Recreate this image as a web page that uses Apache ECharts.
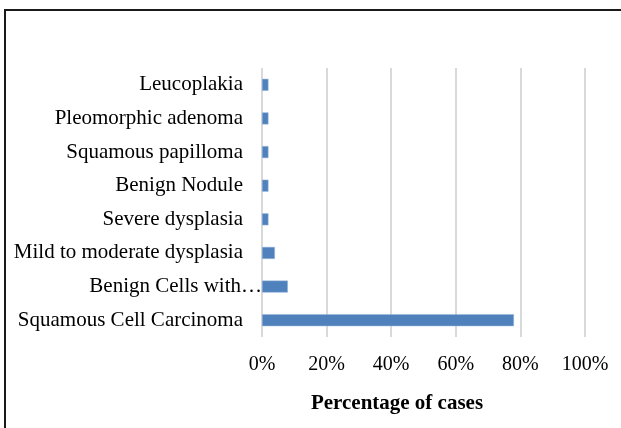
<!DOCTYPE html>
<html>
<head>
<meta charset="utf-8">
<script src="https://cdn.jsdelivr.net/npm/echarts@6/dist/echarts.min.js"></script>
<style>
	html, body { margin: 0; padding: 0; background: #fff; }
	#frame { position: absolute; left: 4px; top: 9px; width: 700px; height: 500px; border: 2px solid #1a1a1a; box-sizing: border-box; }
	#report_chart { position: absolute; left: 0; top: 0; width: 621px; height: 428px; }
</style>
</head>
<body>
<div id="frame"></div>
<div id="report_chart"></div>
<script>
// bottom to top, as the category axis draws them
var categories = ['Squamous Cell Carcinoma', 'Benign Cells with\u2026', 'Mild to moderate dysplasia',
	'Severe dysplasia', 'Benign Nodule', 'Squamous papilloma', 'Pleomorphic adenoma', 'Leucoplakia'];
var percentValues = [78, 8, 4, 2, 2, 2, 2, 2];
var xTicks = [0, 20, 40, 60, 80, 100];

var serif = "'Liberation Serif', 'Times New Roman', serif";

var option_bar = {
	animation : false,
	title : {
		text : 'Percentage of cases',
		left : 392,
		top : 388,
		textAlign : 'center',
		textStyle : {
			color : '#000',
			fontFamily : serif,
			fontSize : 21,
			fontWeight : 'bold'
		}
	},
	grid : {
		left : 262,
		right : 36,
		top : 68,
		bottom : 91
	},
	xAxis : [ {
		type : 'value',
		min : xTicks[0],
		max : xTicks[xTicks.length - 1],
		interval : 20,
		axisLine : { show : false },
		axisTick : { show : false },
		splitLine : {
			lineStyle : { color : '#d9d9d9', width : 2 }
		},
		axisLabel : {
			formatter : '{value}%',
			margin : 18,
			color : '#000',
			fontFamily : serif,
			fontSize : 20
		}
	} ],
	yAxis : [ {
		type : 'category',
		data : categories,
		axisLine : { show : false },
		axisTick : { show : false },
		axisLabel : {
			margin : 0,
			color : '#000',
			fontFamily : serif,
			fontSize : 21,
			// the truncated label sits right up against the axis
			formatter : function(value) {
				return value.indexOf('\u2026') >= 0 ? '{c|' + value + '}' : '{n|' + value + '}';
			},
			rich : {
				n : { padding : [0, 19, 0, 0], fontFamily : serif, fontSize : 21, color : '#000' },
				c : { padding : [0, 0, 0, 0], fontFamily : serif, fontSize : 21, color : '#000' }
			}
		}
	} ],
	series : [ {
		name : 'Percentage of cases',
		type : 'bar',
		barWidth : 12,
		data : percentValues,
		itemStyle : {
			color : '#4f81bd',
			borderColor : '#9bb7da',
			borderWidth : 0.5
		}
	} ]
};

var myChart = echarts.init(document.getElementById('report_chart'));
myChart.setOption(option_bar);
</script>
</body>
</html>
